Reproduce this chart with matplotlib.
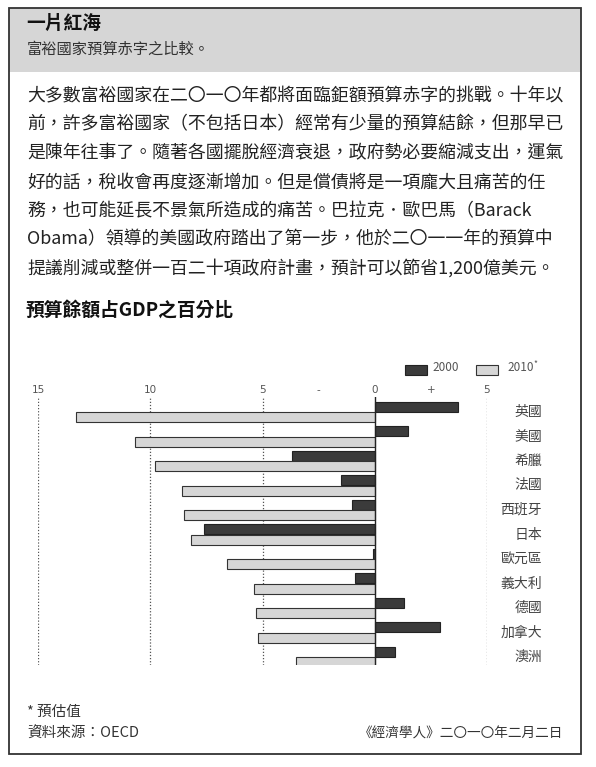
import matplotlib
matplotlib.use("Agg")
import matplotlib.pyplot as plt
import numpy as np
from matplotlib.patches import Rectangle

plt.rcParams['font.family'] = ['Noto Sans CJK TC', 'DejaVu Sans']

W, H = 596, 767

# Data (budget balance, % of GDP)
countries = ['英國', '美國', '希臘', '法國', '西班牙', '日本', '歐元區', '義大利', '德國', '加拿大', '澳洲']
bal_2000 = [3.7, 1.5, -3.7, -1.5, -1.0, -7.6, -0.1, -0.9, 1.3, 2.9, 0.9]
bal_2010 = [-13.3, -10.7, -9.8, -8.6, -8.5, -8.2, -6.6, -5.4, -5.3, -5.2, -3.5]
tick_pos = [-15, -10, -5, -2.5, 0, 2.5, 5]
tick_txt = ['15', '10', '5', '-', '0', '+', '5']

title = '一片紅海'
subtitle = '富裕國家預算赤字之比較。'
body = [
    '大多數富裕國家在二〇一〇年都將面臨鉅額預算赤字的挑戰。十年以',
    '前，許多富裕國家（不包括日本）經常有少量的預算結餘，但那早已',
    '是陳年往事了。隨著各國擺脫經濟衰退，政府勢必要縮減支出，運氣',
    '好的話，稅收會再度逐漸增加。但是償債將是一項龐大且痛苦的任',
    '務，也可能延長不景氣所造成的痛苦。巴拉克．歐巴馬（Barack',
    'Obama）領導的美國政府踏出了第一步，他於二〇一一年的預算中',
    '提議削減或整併一百二十項政府計畫，預計可以節省1,200億美元。',
]
chart_title = '預算餘額占GDP之百分比'

DARK = '#3b3b3b'
LIGHT = '#d6d6d6'
GREY_TXT = '#555555'


def fx(x):
    return x / W


def fy(y):
    return 1 - y / H


fig = plt.figure(figsize=(W / 100, H / 100), dpi=100)
fig.patch.set_facecolor('white')

# frame and grey header
fig.patches.append(Rectangle((fx(9), fy(72)), fx(572), 64 / H, transform=fig.transFigure,
                             facecolor='#d6d6d6', edgecolor='none', zorder=0))
fig.patches.append(Rectangle((fx(9), fy(754)), fx(572), 746 / H, transform=fig.transFigure,
                             facecolor='none', edgecolor='#333333', lw=1.3, zorder=1))

fig.text(fx(26), fy(23), title, fontsize=13.5, fontweight='bold', color='#111111', va='center')
fig.text(fx(27), fy(49), subtitle, fontsize=11, color='#333333', va='center')

for i, line in enumerate(body):
    fig.text(fx(27), fy(96 + i * 28.7), line, fontsize=12.9, fontweight='light',
             color='#222222', va='center')

fig.text(fx(26), fy(310), chart_title, fontsize=13.5, fontweight='bold', color='#111111', va='center')

# chart axes: x=-15 at 38px, x=5 at 487px; rows from 412px step 24.5px
row0, step = 412, 24.5
top_px, bot_px = 397, 665
ax = fig.add_axes([fx(38), fy(bot_px), (487 - 38) / W, (bot_px - top_px) / H])
ax.set_xlim(-15, 5)
ax.set_ylim((bot_px - row0) / step, (top_px - row0) / step)
ax.axis('off')

y = np.arange(len(countries))
ax.barh(y - 0.21, bal_2000, height=0.4, color=DARK, edgecolor='#222222', lw=0.8, zorder=3)
ax.barh(y + 0.21, bal_2010, height=0.4, color=LIGHT, edgecolor='#333333', lw=0.8, zorder=3)

for v in [-15, -10, -5, 5]:
    ax.axvline(v, color='#555555', lw=0.9, ls=(0, (1, 1.5)), zorder=1)
ax.axvline(0, color='#222222', lw=1.0, zorder=4)

for p, t in zip(tick_pos, tick_txt):
    fig.text(fx(38 + (p + 15) * 22.45), fy(390), t, fontsize=7.5, color=GREY_TXT,
             ha='center', va='center', family=['DejaVu Sans'])

for i, c in enumerate(countries):
    fig.text(fx(542), fy(row0 + i * step), c, fontsize=10, fontweight='light',
             color='#444444', ha='right', va='center')

# legend
fig.patches.append(Rectangle((fx(405), fy(375)), 22 / W, 10 / H, transform=fig.transFigure,
                             facecolor=DARK, edgecolor='#222222', lw=0.8))
fig.text(fx(432), fy(368), '2000', fontsize=8.5, color=GREY_TXT, va='center')
fig.patches.append(Rectangle((fx(476), fy(375)), 22 / W, 10 / H, transform=fig.transFigure,
                             facecolor=LIGHT, edgecolor='#333333', lw=0.8))
fig.text(fx(507), fy(368), '2010', fontsize=8.5, color=GREY_TXT, va='center')
fig.text(fx(533), fy(364), '*', fontsize=6, color=GREY_TXT, va='center')

# footer
fig.text(fx(27), fy(712), '* 預估值', fontsize=10.5, fontweight='light', color='#333333', va='center')
fig.text(fx(27), fy(734), '資料來源：OECD', fontsize=10.5, fontweight='light', color='#333333', va='center')
fig.text(fx(563), fy(734), '《經濟學人》二〇一〇年二月二日', fontsize=9.8, fontweight='light',
         color='#333333', ha='right', va='center')

fig.savefig('out.png', dpi=100, facecolor='white')
